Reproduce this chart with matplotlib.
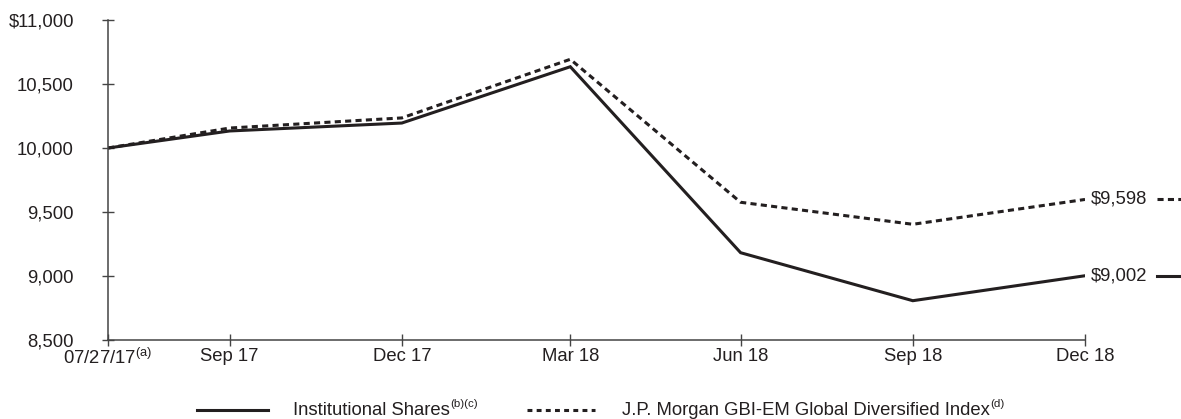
import matplotlib
matplotlib.use("Agg")
import matplotlib.pyplot as plt
import matplotlib.transforms as mtransforms
from matplotlib.lines import Line2D
from matplotlib.text import Annotation
import pandas as pd

plt.rcParams['font.family'] = ['Liberation Sans', 'DejaVu Sans']
plt.rcParams['mathtext.fontset'] = 'custom'
plt.rcParams['mathtext.rm'] = 'Liberation Sans'
plt.rcParams['mathtext.it'] = 'Liberation Sans'

# Growth of a $10,000 investment
dates = pd.to_datetime(["2017-07-27", "2017-09-30", "2017-12-31", "2018-03-31",
                        "2018-06-30", "2018-09-30", "2018-12-31"])
x_labels = ["07/27/17$^{\\mathrm{(a)}}$", "Sep 17", "Dec 17", "Mar 18",
            "Jun 18", "Sep 18", "Dec 18"]
institutional = [10000, 10133, 10195, 10635, 9182, 8807, 9002]
index_values = [10000, 10156, 10235, 10693, 9576, 9404, 9598]
y_ticks = [8500, 9000, 9500, 10000, 10500, 11000]
y_labels = ["8,500", "9,000", "9,500", "10,000", "10,500", "$11,000"]
series_names = ["Institutional Shares", "J.P. Morgan GBI-EM Global Diversified Index"]
series_notes = ["(b)(c)", "(d)"]
end_labels = ["$9,002", "$9,598"]

INK = "#231f20"
FS = 13.3
W, H = 1181, 419
fig = plt.figure(figsize=(W / 100, H / 100), dpi=100)
ax = fig.add_axes([108 / W, 79 / H, (1085 - 108) / W, 320 / H])

ax.plot(dates, institutional, color=INK, lw=2.2, solid_joinstyle='miter')
ax.plot(dates, index_values, color=INK, lw=2.2, dashes=(2.0, 1.4))

ax.set_xlim(dates[0], dates[-1])
ax.set_ylim(8500, 11000)
ax.set_xticks(dates)
ax.set_xticklabels(x_labels)
ax.set_yticks(y_ticks)
ax.set_yticklabels(y_labels)

for s in ("top", "right"):
    ax.spines[s].set_visible(False)
for s in ("left", "bottom"):
    ax.spines[s].set_color("#444444")
    ax.spines[s].set_linewidth(1.1)
ax.tick_params(axis='both', direction='inout', length=9, width=1.0,
               color="#444444", labelsize=FS, labelcolor=INK)
ax.tick_params(axis='y', pad=20)
ax.tick_params(axis='x', pad=1)

# end-of-period value labels with short line keys
trans_key = mtransforms.blended_transform_factory(fig.transFigure, ax.transData)
for val, lab, style in [(institutional[-1], end_labels[0], dict()),
                        (index_values[-1], end_labels[1], dict(dashes=(2.0, 1.4)))]:
    ax.annotate(lab, xy=(dates[-1], val), xytext=(4, 0), textcoords='offset points',
                ha='left', va='center', fontsize=FS, color=INK, annotation_clip=False)
    fig.add_artist(Line2D([1157 / W, 1.0], [val, val], transform=trans_key,
                          color=INK, lw=2.2, clip_on=False, **style))

# legend row
ly = 1 - 410 / H
fig.add_artist(Line2D([197 / W, 268 / W], [ly, ly], color=INK, lw=2.2))
fig.add_artist(Line2D([527 / W, 595 / W], [ly, ly], color=INK, lw=2.2, dashes=(1.6, 1.4)))
for x0, name, note in [(293, series_names[0], series_notes[0]),
                       (622, series_names[1], series_notes[1])]:
    t = fig.text(x0 / W, ly, name, ha='left', va='center', color=INK, fontsize=FS)
    fig.add_artist(Annotation(note, xy=(1.0, 0.58), xycoords=t,
                              xytext=(0.5, 0), textcoords='offset points',
                              ha='left', va='bottom', color=INK, fontsize=FS * 0.62))

fig.savefig("out.png", dpi=100)
